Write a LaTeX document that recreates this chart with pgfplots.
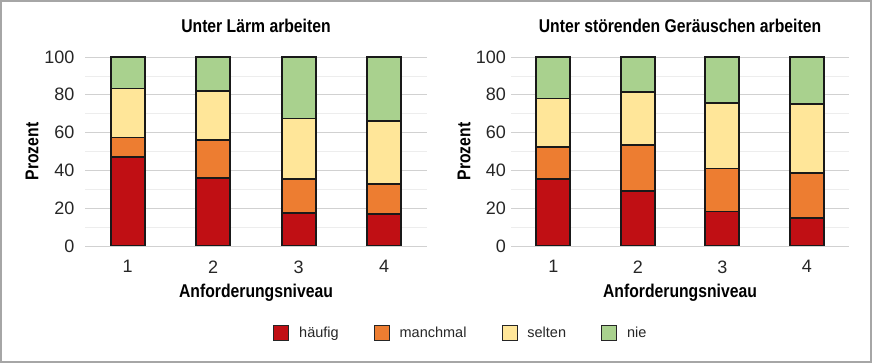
\documentclass[border=0pt]{standalone}
\usepackage{fontspec}
\setmainfont{Liberation Sans}
\newfontfamily\condbold{Liberation Sans}[FakeStretch=0.85]
\usepackage{pgfplots}
\pgfplotsset{compat=1.18}
\definecolor{cHaeufig}{HTML}{C00F14}
\definecolor{cManch}{HTML}{ED7D31}
\definecolor{cSelten}{HTML}{FFE699}
\definecolor{cNie}{HTML}{A9D18E}
\newcommand{\tickfont}{\fontsize{18}{20}\selectfont}
\newcommand{\labfont}{\condbold\bfseries\fontsize{18.5}{20}\selectfont}
\pgfplotsset{
  legbox/.style={legend image code/.code={\draw[##1, draw=black!85, line width=0.9pt] (0pt,-7.5pt) rectangle (15pt,7.5pt);}},
  seg/.style={fill=#1, draw=black!90, line width=1.7pt},
  panel/.style={
    scale only axis, height=189pt,
    ybar stacked, bar width=34pt,
    ymin=0, ymax=100, xmin=0.5, xmax=4.5,
    xtick={1,2,3,4}, ytick={0,20,...,100}, minor ytick={10,30,...,90},
    ymajorgrids, yminorgrids,
    major grid style={black!18, line width=0.9pt},
    minor grid style={black!7, line width=0.6pt},
    axis line style={draw=none}, tick style={draw=none},
    /pgf/number format/assume math mode=true,
    ticklabel style={font=\tickfont, text=black!85},
    xticklabel style={yshift=-11pt},
    xlabel={Anforderungsniveau},
    xlabel style={at={(axis description cs:0.5,0)}, anchor=center, yshift=-47pt, font=\labfont},
    ylabel={Prozent},
    ylabel style={at={(axis description cs:0,0.5)}, anchor=center, rotate=0, font=\labfont},
    title style={at={(axis description cs:0.5,1)}, anchor=center, yshift=25pt, font=\labfont},
  }
}
\begin{document}
\begin{tikzpicture}[x=1pt,y=1pt]
\useasboundingbox (0,0) rectangle (872,363);
\draw[black!35, line width=1.6pt] (0.8,0.8) rectangle (871.2,362.2);
\begin{axis}[panel, at={(85pt,117pt)}, anchor=south west, width=342pt,
  title={Unter Lärm arbeiten},
  ylabel style={xshift=0pt, yshift=53pt},
  yticklabel style={xshift=-7pt},
  legend columns=4,
  legend style={at={(1.099,-0.46)}, anchor=center, draw=none, fill=none,
    font=\fontsize{14.5}{16}\selectfont, text=black!85,
    /tikz/every even column/.append style={column sep=33pt},
    /tikz/every odd column/.append style={column sep=8pt}},
  legend cell align=left]
\addplot[seg=cHaeufig, legbox] coordinates {(1,47.2) (2,36.1) (3,17.3) (4,17.1)};
\addplot[seg=cManch, legbox] coordinates {(1,10.2) (2,19.9) (3,18.1) (4,15.8)};
\addplot[seg=cSelten, legbox] coordinates {(1,25.9) (2,26.0) (3,32.0) (4,33.3)};
\addplot[seg=cNie, legbox] coordinates {(1,16.7) (2,18.0) (3,32.6) (4,33.8)};
\legend{häufig, manchmal, selten, nie}
\end{axis}
\begin{axis}[panel, at={(511pt,117pt)}, anchor=south west, width=338pt,
  title={Unter störenden Geräuschen arbeiten},
  ylabel style={yshift=47pt},
  yticklabel style={xshift=-1.5pt}]
\addplot[seg=cHaeufig] coordinates {(1,35.4) (2,29.2) (3,18.3) (4,14.8)};
\addplot[seg=cManch] coordinates {(1,16.9) (2,24.1) (3,22.7) (4,23.9)};
\addplot[seg=cSelten] coordinates {(1,25.7) (2,28.0) (3,34.5) (4,36.3)};
\addplot[seg=cNie] coordinates {(1,22.0) (2,18.7) (3,24.5) (4,25.0)};
\end{axis}
\end{tikzpicture}
\end{document}
